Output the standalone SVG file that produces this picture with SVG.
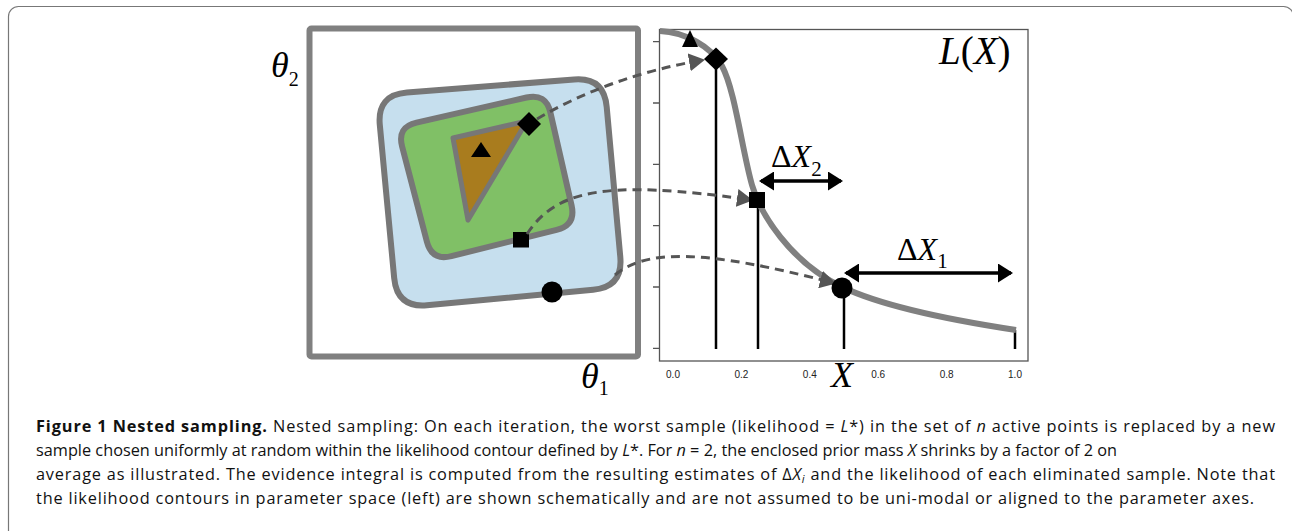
<svg xmlns="http://www.w3.org/2000/svg" width="1292" height="531" viewBox="0 0 1292 531">
<defs>
<style>
.math{font-family:"Liberation Serif","DejaVu Serif",serif;fill:#000}
.it{font-style:italic}
.tick{font-family:"Liberation Sans",Arial,sans-serif;font-size:10px;fill:#222;text-anchor:middle}
.cap{font-family:"Open Sans","Noto Sans",sans-serif;font-size:16.3px;fill:#111}
.contour{stroke:#777;stroke-width:6;stroke-linejoin:round}
.dash{fill:none;stroke:#555;stroke-width:3;stroke-dasharray:9 6}
.vline{stroke:#000;stroke-width:2.5}
.darrow{stroke:#000;stroke-width:3.5}
</style>
<marker id="garrow" viewBox="0 0 16 18" markerUnits="userSpaceOnUse" markerWidth="16" markerHeight="18" refX="14" refY="9" orient="auto">
<path d="M0,0 L16,9 L0,18 Z" fill="#555"/>
</marker>
<marker id="barrow" viewBox="0 0 15 19" markerUnits="userSpaceOnUse" markerWidth="15" markerHeight="19" refX="13" refY="9.5" orient="auto-start-reverse">
<path d="M0,0 L15,9.5 L0,19 Z" fill="#000"/>
</marker>
</defs>
<rect width="1292" height="531" fill="#fff"/>
<g id="frame">
<rect x="8.5" y="6.5" width="1285" height="540" rx="10" fill="none" stroke="#777" stroke-width="1.2"/>
</g>
<g id="parameter-space">
<rect x="309.5" y="28.5" width="328.5" height="328" rx="2" fill="#fff" stroke="#808080" stroke-width="6"/>
<path id="contour-blue" class="contour" fill="#c6dfee" d="M 406.9 92.6 L 574.1 79.4 Q 604 77 606.7 106.9 L 620.3 257.1 Q 623 287 593.1 289.8 L 426.9 305.2 Q 397 308 394.2 278.1 L 379.8 124.9 Q 377 95 406.9 92.6 Z"/>
<path id="contour-green" class="contour" fill="#80c066" d="M 416.5 122.6 L 526.5 97.5 Q 546 93 550.4 112.5 L 571.6 205.5 Q 576 225 556.6 229.9 L 451.4 256.1 Q 432 261 426.9 241.7 L 402.1 146.4 Q 397 127 416.5 122.6 Z"/>
<path id="contour-brown" d="M 453 138 L 527 121 L 468 220 Z" fill="#a97c1e" stroke="#777" stroke-width="5" stroke-linejoin="round"/>
<path d="M 481 142 L 491 157 L 471 157 Z" fill="#000"/>
<path d="M 529 112 L 541 124 L 529 136 L 517 124 Z" fill="#000"/>
<rect x="513" y="232" width="16" height="15.5" fill="#000"/>
<circle cx="552" cy="292" r="10.5" fill="#000"/>
<text class="math" x="271" y="77" font-size="36"><tspan class="it">θ</tspan><tspan font-size="20" dy="9">2</tspan></text>
<text class="math" x="581" y="388" font-size="36"><tspan class="it">θ</tspan><tspan font-size="20" dy="7">1</tspan></text>
</g>
<g id="likelihood-plot">
<rect x="659.5" y="29.5" width="368.5" height="331.5" fill="none" stroke="#555" stroke-width="1.3"/>
<path d="M653 41.7H659.5M653 103H659.5M653 164.3H659.5M653 225.6H659.5M653 287H659.5M653 348.3H659.5" stroke="#555" stroke-width="1.3"/>
<text class="tick" x="673" y="378">0.0</text>
<text class="tick" x="741.4" y="378">0.2</text>
<text class="tick" x="809.8" y="378">0.4</text>
<text class="tick" x="878.2" y="378">0.6</text>
<text class="tick" x="946.6" y="378">0.8</text>
<text class="tick" x="1015" y="378">1.0</text>
<line class="vline" x1="716" y1="59" x2="716" y2="349"/>
<line class="vline" x1="758" y1="200" x2="758" y2="349"/>
<line class="vline" x1="844" y1="288" x2="844" y2="349"/>
<line class="vline" x1="1015" y1="330" x2="1015" y2="349"/>
<path id="curve" d="M 660 31 C 685 32, 711.6 46.8, 722 66 C 735 90, 742 150, 752 185 C 760 213, 790 262, 842 287 C 880 305, 950 320, 1016 330" fill="none" stroke="#808080" stroke-width="6"/>
<text class="math" x="939" y="64" font-size="39"><tspan class="it">L</tspan>(<tspan class="it">X</tspan>)</text>
<text class="math it" x="831" y="387" font-size="36">X</text>
</g>
<g id="connectors">
<path class="dash" d="M 537 119 Q 610 76 703 60" marker-end="url(#garrow)"/>
<path class="dash" d="M 527 234 C 555 192, 600 178, 751 200" marker-end="url(#garrow)"/>
<path class="dash" d="M 615 275 C 645 250, 700 248, 834 283" marker-end="url(#garrow)"/>
<line class="darrow" x1="761" y1="181" x2="841" y2="181" marker-start="url(#barrow)" marker-end="url(#barrow)"/>
<line class="darrow" x1="846" y1="273" x2="1011" y2="273" marker-start="url(#barrow)" marker-end="url(#barrow)"/>
</g>
<g id="plot-markers">
<path d="M 690 30 L 698 47 L 682 47 Z" fill="#000"/>
<path d="M 716 47.5 L 728 59 L 716 70.5 L 704 59 Z" fill="#000"/>
<rect x="749" y="192" width="16" height="16" fill="#000"/>
<circle cx="842" cy="288" r="10.5" fill="#000"/>
</g>
<g id="delta-labels">
<text class="math" x="771" y="167" font-size="32">Δ<tspan class="it">X</tspan><tspan font-size="21" dy="9">2</tspan></text>
<text class="math" x="897" y="260" font-size="32">Δ<tspan class="it">X</tspan><tspan font-size="21" dy="8">1</tspan></text>
</g>
<g id="caption">
<text class="cap" x="36" y="432" textLength="1239" lengthAdjust="spacing"><tspan font-weight="bold">Figure 1 Nested sampling.</tspan> Nested sampling: On each iteration, the worst sample (likelihood = <tspan font-style="italic">L</tspan>*) in the set of <tspan font-style="italic">n</tspan> active points is replaced by a new</text>
<text class="cap" x="36" y="456" textLength="1081" lengthAdjust="spacing">sample chosen uniformly at random within the likelihood contour defined by <tspan font-style="italic">L</tspan>*. For <tspan font-style="italic">n</tspan> = 2, the enclosed prior mass <tspan font-style="italic">X</tspan> shrinks by a factor of 2 on</text>
<text class="cap" x="36" y="480" textLength="1239" lengthAdjust="spacing">average as illustrated. The evidence integral is computed from the resulting estimates of Δ<tspan font-style="italic">X</tspan><tspan font-style="italic" font-size="11" dy="3">i</tspan><tspan dy="-3"> and the likelihood of each eliminated sample. Note that</tspan></text>
<text class="cap" x="36" y="504" textLength="1218" lengthAdjust="spacing">the likelihood contours in parameter space (left) are shown schematically and are not assumed to be uni-modal or aligned to the parameter axes.</text>
</g>
</svg>
